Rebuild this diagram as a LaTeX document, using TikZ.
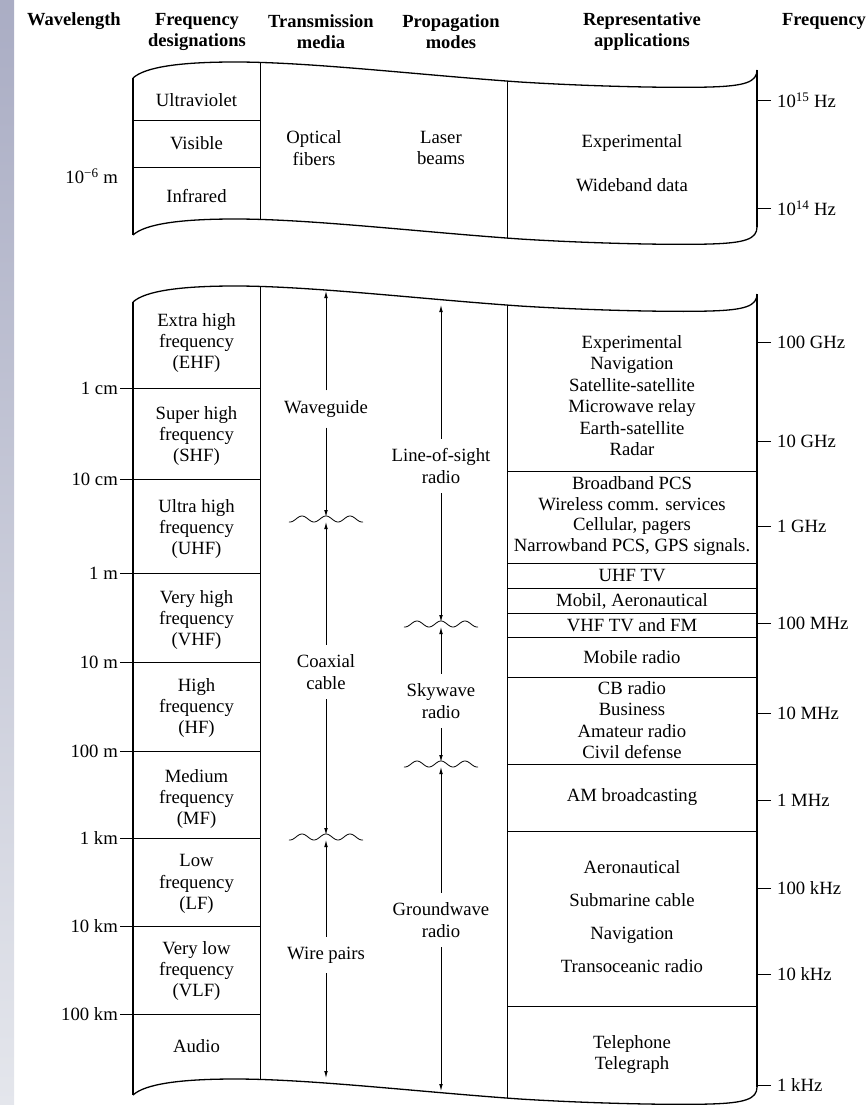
\documentclass[tikz,border=0pt]{standalone}
\usepackage{fontspec}
\setmainfont{Liberation Serif}
\usetikzlibrary{arrows.meta}
\definecolor{stripA}{RGB}{170,173,196}
\definecolor{stripB}{RGB}{126,128,142}
\definecolor{stripC}{RGB}{228,230,236}
\newcommand{\bodyfont}{\fontsize{18.7}{21.4}\selectfont}
\newcommand{\headfont}{\fontsize{18.5}{21}\selectfont\bfseries}
% curled top/bottom edge of a band, #1 = y of the left corner
\newcommand{\flagedge}[1]{(133,#1) .. controls (145,{#1-11}) and (180,{#1-16}) .. (235,{#1-16}) .. controls (310,{#1-16}) and (420,{#1-3}) .. (520,{#1+4}) .. controls (600,{#1+9}) and (680,{#1+10}) .. (710,{#1+9}) .. controls (745,{#1+8}) and (757,{#1+4}) .. (757,{#1-8})}
\newcommand{\cutwave}[1]{\draw[wavy, shift={(#1)}] plot[domain=-37:37, samples=60, smooth] (\x,{-3*cos(15*\x)});}
\begin{document}
\begin{tikzpicture}[x=1pt, y=-1pt,
    every node/.style={font=\bodyfont, inner sep=0pt, align=center},
    hd/.style={font=\headfont},
    box/.style={line width=1.3pt},
    rule/.style={line width=0.9pt},
    tick/.style={line width=0.9pt},
    wavy/.style={line width=0.8pt},
    mode/.style={outer sep=10pt},
    arr/.style={line width=0.8pt, -{Latex[length=7pt,width=3.6pt]}}]
  \useasboundingbox (0,0) rectangle (867,1105);
  \shade[top color=stripA, middle color=stripB, bottom color=stripC] (0,0) rectangle (14,1105);

  % 1. column heads
  \node[hd] (hwl) at (74,21.6) {Wavelength};
  \node[hd] (hfd) at (197,32) {Frequency\\designations};
  \node[hd] (htm) at (321,32) {Transmission\\media};
  \node[hd] (hpm) at (451,32) {Propagation\\modes};
  \node[hd] (hra) at (642,32) {Representative\\applications};
  \node[hd] (hfq) at (824,21.6) {Frequency};

  % 2. optical band
  \draw[box] \flagedge{78};
  \draw[box] \flagedge{235};
  \draw[box] (133,78) -- (133,235);
  \draw[box] (757,70) -- (757,227);
  \draw[rule] (260,62) -- (260,219);
  \draw[rule] (507,81) -- (507,238);
  \draw[rule] (133,120) -- (260,120);
  \draw[rule] (133,167) -- (260,167);
  \node (uv) at (196.5,100) {Ultraviolet};
  \node (vis) at (196.5,143) {Visible};
  \node (ir) at (196.5,196) {Infrared};
  \node (opt) at (314,148) {Optical\\fibers};
  \node (las) at (441,148) {Laser\\beams};
  \node (exp) at (632,163) {Experimental\\[22.6pt]Wideband data};
  \node[anchor=east] (wlum) at (118,176) {10\textsuperscript{−6}~m};
  \node[anchor=west] (f15) at (777,100) {10\textsuperscript{15}~Hz};
  \node[anchor=west] (f14) at (777,208) {10\textsuperscript{14}~Hz};
  \draw[tick] ([xshift=-6pt]f15.west) -- (757,100);
  \draw[tick] ([xshift=-6pt]f14.west) -- (757,208);

  % 3. radio band
  \draw[box] \flagedge{302};
  \draw[box] \flagedge{1095};
  \draw[box] (133,302) -- (133,1095);
  \draw[box] (757,294) -- (757,1087);
  \draw[rule] (260,286) -- (260,1079);
  \draw[rule] (507,305) -- (507,1098);

  % wavelength scale and designations
  \foreach \y/\t [count=\i] in {388/1 cm, 479/10 cm, 573/1 m, 662/10 m, 751/100 m, 838/1 km, 926/10 km, 1014/100 km} {
    \draw[rule] (133,\y) -- (260,\y);
    \node[anchor=east] (wl\i) at (118,\y) {\t};
    \draw[tick] ([xshift=2pt]wl\i.east) -- (133,\y);
  }
  \foreach \y/\t [count=\i] in {343/{Extra high\\frequency\\(EHF)}, 436/{Super high\\frequency\\(SHF)}, 529/{Ultra high\\frequency\\(UHF)}, 620/{Very high\\frequency\\(VHF)}, 708/{High\\frequency\\(HF)}, 799/{Medium\\frequency\\(MF)}, 884/{Low\\frequency\\(LF)}, 971/{Very low\\frequency\\(VLF)}, 1046/Audio}
    \node (fd\i) at (196.5,\y) {\t};

  % media and modes
  \coordinate (wgtop) at (326,291);
  \coordinate (wv1) at (326,519);
  \coordinate (wv2) at (326,837);
  \coordinate (wpbot) at (326,1078);
  \coordinate (lostop) at (441,305);
  \coordinate (wv3) at (441,624);
  \coordinate (wv4) at (441,764);
  \coordinate (gwbot) at (441,1091);
  \node[mode] (wg) at (326,409) {Waveguide};
  \node[mode] (cx) at (326,672) {Coaxial\\cable};
  \node[mode] (wp) at (326,955) {Wire pairs};
  \node[mode] (los) at (441,466) {Line-of-sight\\radio};
  \node[mode] (sky) at (441,701) {Skywave\\radio};
  \node[mode] (gnd) at (441,920) {Groundwave\\radio};
  \cutwave{wv1}
  \cutwave{wv2}
  \cutwave{wv3}
  \cutwave{wv4}
  \draw[arr] (wg) -- (wgtop);
  \draw[arr, shorten >=2pt] (wg) -- (wv1);
  \draw[arr, shorten >=3pt] (cx) -- (wv1);
  \draw[arr, shorten >=2pt] (cx) -- (wv2);
  \draw[arr, shorten >=3pt] (wp) -- (wv2);
  \draw[arr] (wp) -- (wpbot);
  \draw[arr] (los) -- (lostop);
  \draw[arr, shorten >=2pt] (los) -- (wv3);
  \draw[arr, shorten >=3pt] (sky) -- (wv3);
  \draw[arr, shorten >=2pt] (sky) -- (wv4);
  \draw[arr, shorten >=3pt] (gnd) -- (wv4);
  \draw[arr] (gnd) -- (gwbot);

  % applications
  \foreach \y in {471,563,588,613,637,677,764,831,1006}
    \draw[rule] (507,\y) -- (757,\y);
  \node (ap1) at (632,395.5) {Experimental\\Navigation\\Satellite-satellite\\Microwave relay\\Earth-satellite\\Radar};
  \node (ap2) at (632,516) {Broadband PCS\\[-1pt]Wireless comm. services\\[-1pt]Cellular, pagers\\[-1pt]Narrowband PCS, GPS signals.};
  \node (ap3) at (632,576) {UHF TV};
  \node (ap4) at (632,601) {Mobil, Aeronautical};
  \node (ap5) at (632,625) {VHF TV and FM};
  \node (ap6) at (632,657) {Mobile radio};
  \node (ap7) at (632,720) {CB radio\\Business\\Amateur radio\\Civil defense};
  \node (ap8) at (632,797) {AM broadcasting};
  \node (ap9) at (632,916.5) {Aeronautical\\[11.8pt]Submarine cable\\[11.8pt]Navigation\\[11.8pt]Transoceanic radio};
  \node (ap10) at (632,1054.5) {Telephone\\Telegraph};

  % frequency scale
  \foreach \y/\t [count=\i] in {342/100 GHz, 441/10 GHz, 526/1 GHz, 623/100 MHz, 713/10 MHz, 800/1 MHz, 888/100 kHz, 974/10 kHz, 1085/1 kHz} {
    \node[anchor=west] (fq\i) at (777,\y) {\t};
    \draw[tick] ([xshift=-6pt]fq\i.west) -- (757,\y);
  }
\end{tikzpicture}
\end{document}
